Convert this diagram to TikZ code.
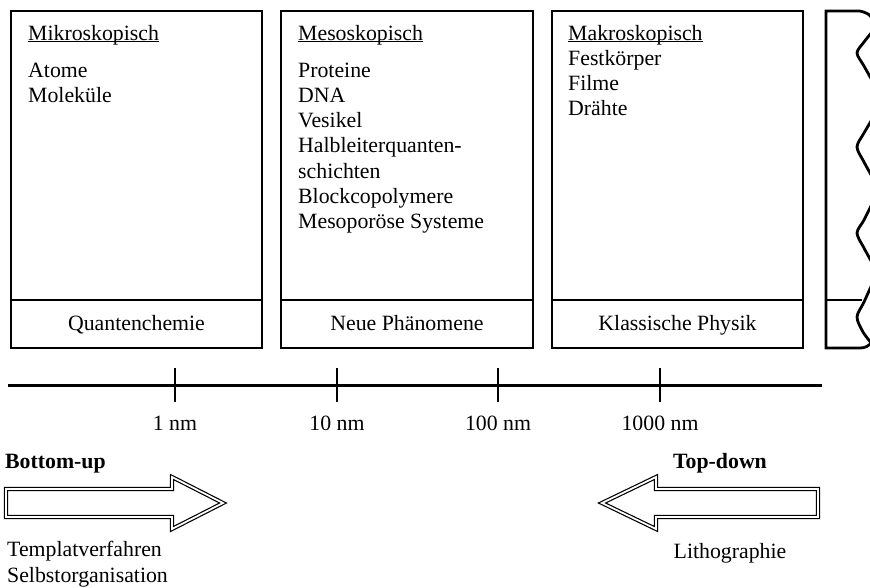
\documentclass[tikz,border=0pt]{standalone}
\usepackage{fontspec}
\setmainfont{Liberation Serif}
\usetikzlibrary{positioning}
\newcommand{\sizefont}{\fontsize{21.8}{25.3}\selectfont}
\newcommand{\headline}[1]{\setbox0\hbox{#1}\rlap{\rule[-2.4pt]{\wd0}{1.1pt}}\box0}
\tikzset{
  panel/.style={draw=black,line width=2.8pt},
  divider/.style={line width=2.8pt},
  scaleline/.style={line width=3pt},
  tickmark/.style={line width=2pt},
  listtext/.style={anchor=base west,inner sep=0pt,align=left,font=\sizefont},
  foottext/.style={anchor=base,inner sep=0pt,font=\sizefont},
  headtext/.style={inner sep=0pt,font=\sizefont\bfseries},
  bigarrow/.style={double,double distance=1.8pt,line width=1.2pt,line join=miter}
}

\begin{document}
\begin{tikzpicture}[x=1pt,y=-1pt]
  \useasboundingbox (0,0) rectangle (870,587);

  % length scale boxes
  \foreach \l/\r in {11/262,281/533,552/803}{
    \draw[panel] (\l,11) rectangle (\r,348);
    \draw[divider] (\l,300) -- (\r,300);
  }
  % headings at the first baseline, lists anchored at their last baseline
  \node[listtext] (mikrohead) at (28,40) {\headline{Mikroskopisch}};
  \node[listtext] (mikro) at (28,102.3) {Atome\\Moleküle};
  \node[listtext] (mesohead) at (298,40) {\headline{Mesoskopisch}};
  \node[listtext] (meso) at (298,228.8)
    {Proteine\\DNA\\Vesikel\\Halbleiterquanten-\\schichten\\Blockcopolymere\\Mesoporöse Systeme};
  \node[listtext] (makrohead) at (568,40) {\headline{Makroskopisch}};
  \node[listtext] (makro) at (568,115.9) {Festkörper\\Filme\\Drähte};
  \node[foottext] (quanten) at (136.5,330) {Quantenchemie};
  \node[foottext] (neue) at (407,330) {Neue Phänomene};
  \node[foottext] (klassisch) at (677.5,330) {Klassische Physik};

  % cut-off box on the right
  \begin{scope}
    \clip (815,0) rectangle (870,360);
    \draw[panel] (860,11) -- (826,11) -- (826,348) -- (860,348) to[out=0,in=-130] (872,342);
    \draw[divider] (826,300) -- (862,300);
    \draw[line width=2.8pt] plot[smooth,tension=0.5] coordinates {
      (860,11) (868,14) (875,22) (874,29) (864,42) (857,53) (864,66) (874,84)
      (882,100) (874,116) (864,133) (857,147) (864,162) (874,180) (880,190)
      (874,200) (864,220) (857,233) (864,248) (874,266) (878,272) (874,280)
      (864,302) (857,317) (863,332) (872,344)};
  \end{scope}

  % scale axis
  \draw[scaleline] (8,385) -- (822,385);
  \foreach \x/\lab [count=\i] in {175/1 nm,337/10 nm,498/100 nm,660/1000 nm}{
    \coordinate (tk\i) at (\x,385);
    \draw[tickmark] (\x,368) -- (\x,402);
    \node[foottext] (lab\i) at (\x,430) {\lab};
  }

  % approaches
  \node[headtext,anchor=base west] (bottomup) at (5,468) {Bottom-up};
  \draw[bigarrow] (6,489) -- (172,489) -- (172,477) -- (223,503)
    -- (172,529) -- (172,517) -- (6,517) -- cycle;
  \node[listtext] (bumethods) at (7,582) {Templatverfahren\\Selbstorganisation};

  \node[headtext,anchor=base] (topdown) at (720,468) {Top-down};
  \draw[bigarrow] (818,489) -- (656,489) -- (656,477) -- (602,503)
    -- (656,529) -- (656,517) -- (818,517) -- cycle;
  \node[foottext] (tdmethods) at (730,558) {Lithographie};
\end{tikzpicture}
\end{document}
